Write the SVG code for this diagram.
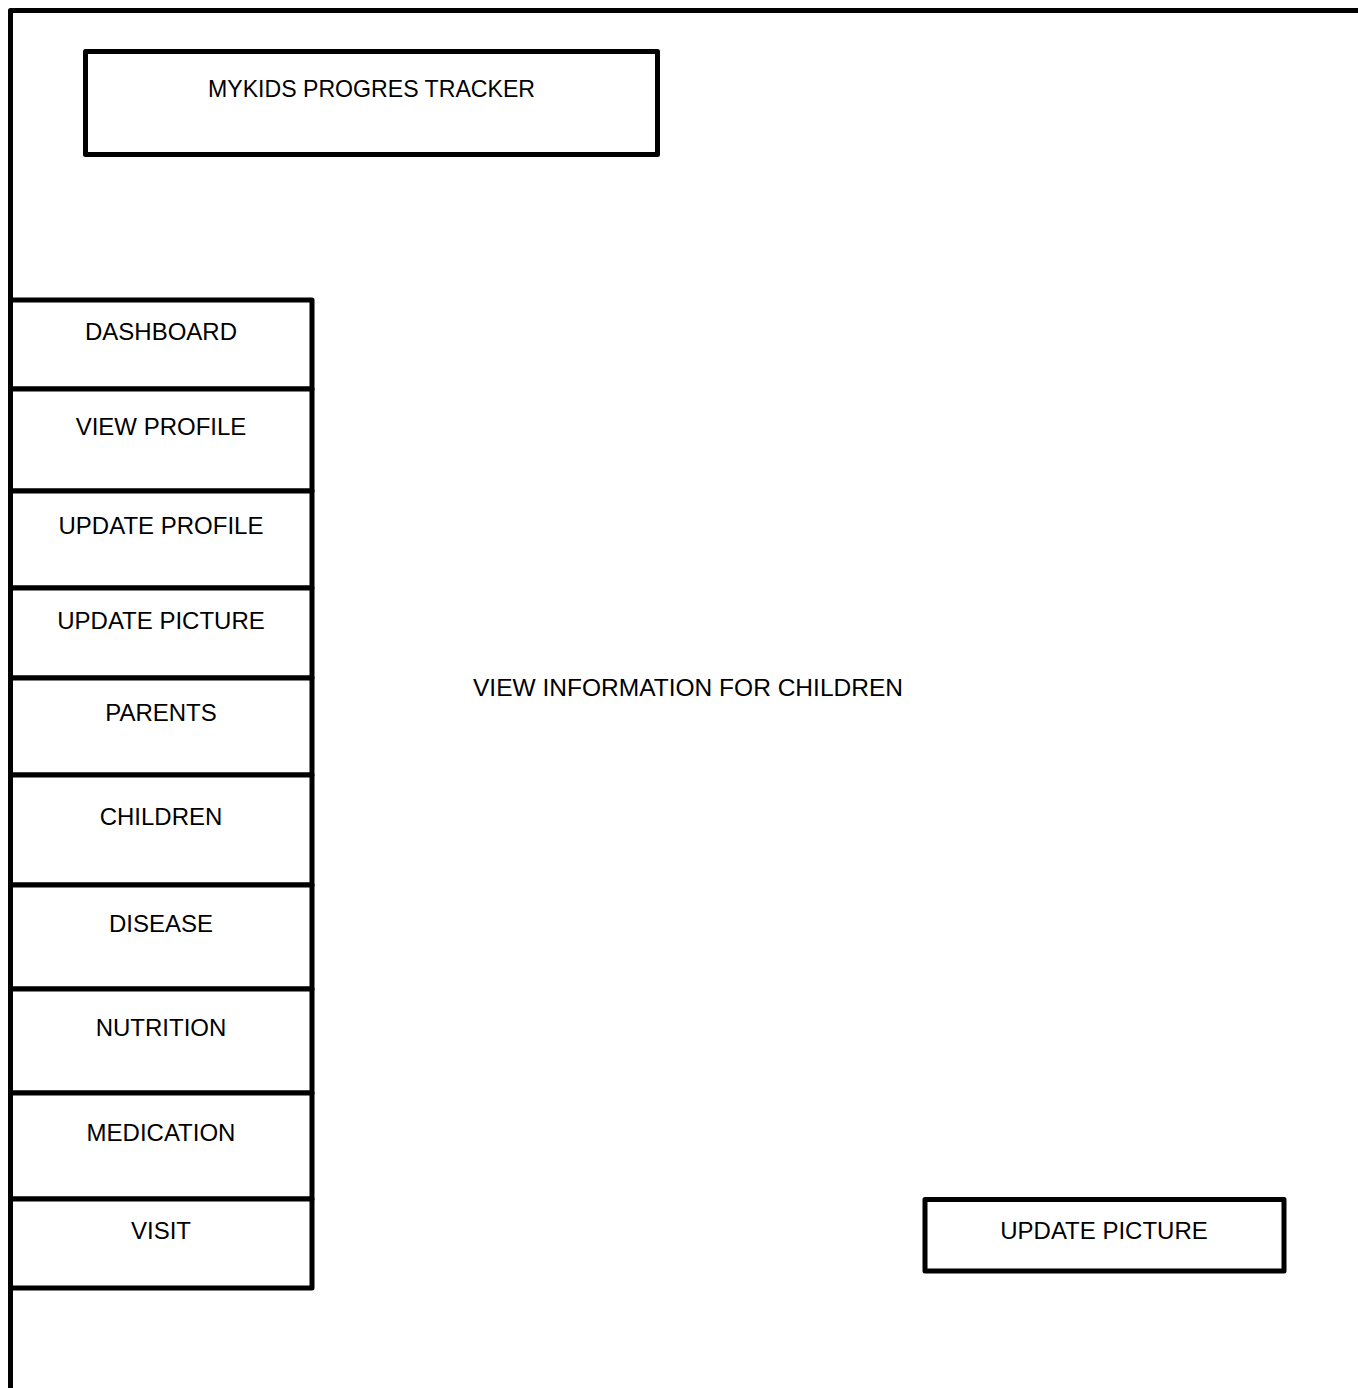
<svg xmlns="http://www.w3.org/2000/svg" width="1358" height="1388" viewBox="0 0 1358 1388">
<style>
.box{fill:#fff;stroke:#000;stroke-width:5;stroke-linejoin:round}
.frame{fill:none;stroke:#000;stroke-width:5;stroke-linejoin:round}
.t{font-family:"Liberation Sans",Arial,sans-serif;font-size:24px;fill:#000;text-anchor:middle}
</style>
<rect width="1358" height="1388" fill="#fff"/>
<g id="frame"><path class="frame" d="M10.5,1400 V10.5 H1370"/></g>
<g id="title"><rect class="box" x="85.5" y="51.5" width="572" height="103"/><text class="t" x="371.5" y="97" textLength="327" lengthAdjust="spacingAndGlyphs">MYKIDS PROGRES TRACKER</text></g>
<g id="dashboard"><rect class="box" x="10.5" y="300" width="301.5" height="89"/><text class="t" x="161" y="340">DASHBOARD</text></g>
<g id="view-profile"><rect class="box" x="10.5" y="389" width="301.5" height="102"/><text class="t" x="161" y="435">VIEW PROFILE</text></g>
<g id="update-profile"><rect class="box" x="10.5" y="491" width="301.5" height="97"/><text class="t" x="161" y="534">UPDATE PROFILE</text></g>
<g id="update-picture-menu"><rect class="box" x="10.5" y="588" width="301.5" height="90"/><text class="t" x="161" y="629">UPDATE PICTURE</text></g>
<g id="parents"><rect class="box" x="10.5" y="678" width="301.5" height="97"/><text class="t" x="161" y="721">PARENTS</text></g>
<g id="children"><rect class="box" x="10.5" y="775" width="301.5" height="110"/><text class="t" x="161" y="825">CHILDREN</text></g>
<g id="disease"><rect class="box" x="10.5" y="885" width="301.5" height="104"/><text class="t" x="161" y="932">DISEASE</text></g>
<g id="nutrition"><rect class="box" x="10.5" y="989" width="301.5" height="104"/><text class="t" x="161" y="1036">NUTRITION</text></g>
<g id="medication"><rect class="box" x="10.5" y="1093" width="301.5" height="106"/><text class="t" x="161" y="1141">MEDICATION</text></g>
<g id="visit"><rect class="box" x="10.5" y="1199" width="301.5" height="89"/><text class="t" x="161" y="1239">VISIT</text></g>
<g id="content"><text class="t" x="688" y="696" textLength="430" lengthAdjust="spacingAndGlyphs">VIEW INFORMATION FOR CHILDREN</text></g>
<g id="update-picture-button"><rect class="box" x="925" y="1199.5" width="359" height="71.5"/><text class="t" x="1104" y="1239">UPDATE PICTURE</text></g>
<g id="connectors"></g>
</svg>
